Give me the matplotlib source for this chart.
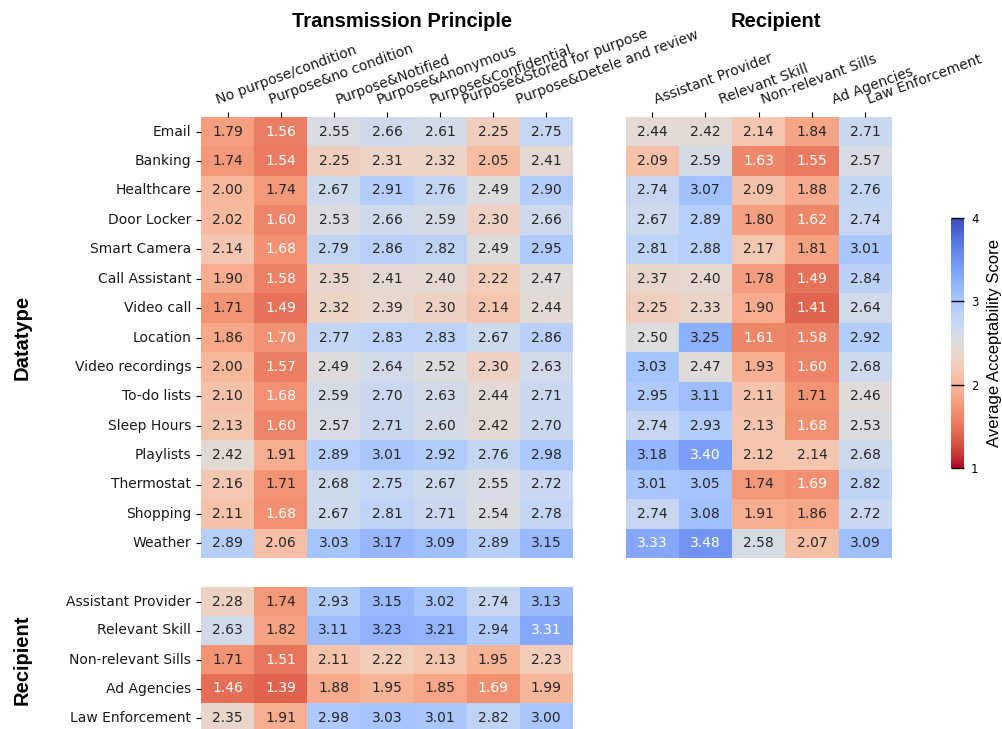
import matplotlib
matplotlib.use("Agg")
import matplotlib.pyplot as plt
import matplotlib.transforms as mtransforms
import seaborn as sns
import numpy as np
import pandas as pd

datatypes = ["Email", "Banking", "Healthcare", "Door Locker", "Smart Camera", "Call Assistant",
             "Video call", "Location", "Video recordings", "To-do lists", "Sleep Hours",
             "Playlists", "Thermostat", "Shopping", "Weather"]
principles = ["No purpose/condition", "Purpose&no condition", "Purpose&Notified",
              "Purpose&Anonymous", "Purpose&Confidential", "Purpose&Stored for purpose",
              "Purpose&Detele and review"]
recipients = ["Assistant Provider", "Relevant Skill", "Non-relevant Sills", "Ad Agencies",
              "Law Enforcement"]

datatype_by_principle = [
    [1.79, 1.56, 2.55, 2.66, 2.61, 2.25, 2.75],
    [1.74, 1.54, 2.25, 2.31, 2.32, 2.05, 2.41],
    [2.00, 1.74, 2.67, 2.91, 2.76, 2.49, 2.90],
    [2.02, 1.60, 2.53, 2.66, 2.59, 2.30, 2.66],
    [2.14, 1.68, 2.79, 2.86, 2.82, 2.49, 2.95],
    [1.90, 1.58, 2.35, 2.41, 2.40, 2.22, 2.47],
    [1.71, 1.49, 2.32, 2.39, 2.30, 2.14, 2.44],
    [1.86, 1.70, 2.77, 2.83, 2.83, 2.67, 2.86],
    [2.00, 1.57, 2.49, 2.64, 2.52, 2.30, 2.63],
    [2.10, 1.68, 2.59, 2.70, 2.63, 2.44, 2.71],
    [2.13, 1.60, 2.57, 2.71, 2.60, 2.42, 2.70],
    [2.42, 1.91, 2.89, 3.01, 2.92, 2.76, 2.98],
    [2.16, 1.71, 2.68, 2.75, 2.67, 2.55, 2.72],
    [2.11, 1.68, 2.67, 2.81, 2.71, 2.54, 2.78],
    [2.89, 2.06, 3.03, 3.17, 3.09, 2.89, 3.15],
]
datatype_by_recipient = [
    [2.44, 2.42, 2.14, 1.84, 2.71],
    [2.09, 2.59, 1.63, 1.55, 2.57],
    [2.74, 3.07, 2.09, 1.88, 2.76],
    [2.67, 2.89, 1.80, 1.62, 2.74],
    [2.81, 2.88, 2.17, 1.81, 3.01],
    [2.37, 2.40, 1.78, 1.49, 2.84],
    [2.25, 2.33, 1.90, 1.41, 2.64],
    [2.50, 3.25, 1.61, 1.58, 2.92],
    [3.03, 2.47, 1.93, 1.60, 2.68],
    [2.95, 3.11, 2.11, 1.71, 2.46],
    [2.74, 2.93, 2.13, 1.68, 2.53],
    [3.18, 3.40, 2.12, 2.14, 2.68],
    [3.01, 3.05, 1.74, 1.69, 2.82],
    [2.74, 3.08, 1.91, 1.86, 2.72],
    [3.33, 3.48, 2.58, 2.07, 3.09],
]
recipient_by_principle = [
    [2.28, 1.74, 2.93, 3.15, 3.02, 2.74, 3.13],
    [2.63, 1.82, 3.11, 3.23, 3.21, 2.94, 3.31],
    [1.71, 1.51, 2.11, 2.22, 2.13, 1.95, 2.23],
    [1.46, 1.39, 1.88, 1.95, 1.85, 1.69, 1.99],
    [2.35, 1.91, 2.98, 3.03, 3.01, 2.82, 3.00],
]

# horizontal pixel nudges of the rotated column labels (layout only)
principle_label_dx = [-13, -14, 0, -12, -12, -33, -32]
recipient_label_dx = [0, 12, 0, 18, 0]

W, H = 1002, 729
fig = plt.figure(figsize=(W / 100, H / 100), dpi=100)

ax1 = fig.add_axes([201 / W, 1 - 558 / H, 372 / W, 441 / H])
ax2 = fig.add_axes([625.5 / W, 1 - 558 / H, 266.5 / W, 441 / H])
ax3 = fig.add_axes([201 / W, 1 - 732 / H, 372 / W, 145 / H])
cax = fig.add_axes([951 / W, 1 - 468 / H, 13 / W, 250 / H])

common = dict(cmap="coolwarm_r", vmin=1, vmax=4, annot=True, fmt=".2f",
              annot_kws={"fontsize": 10})

df1 = pd.DataFrame(datatype_by_principle, index=datatypes, columns=principles)
df2 = pd.DataFrame(datatype_by_recipient, index=datatypes, columns=recipients)
df3 = pd.DataFrame(recipient_by_principle, index=recipients, columns=principles)

sns.heatmap(df1, ax=ax1, cbar=True, cbar_ax=cax,
            cbar_kws={"ticks": [1, 2, 3, 4]}, **common)
sns.heatmap(df2, ax=ax2, cbar=False, **common)
sns.heatmap(df3, ax=ax3, cbar=False, **common)

for ax, dxs in ((ax1, principle_label_dx), (ax2, recipient_label_dx)):
    ax.xaxis.tick_top()
    ax.set_xlabel("")
    ax.set_ylabel("")
    for lab, dx in zip(ax.get_xticklabels(), dxs):
        lab.set_rotation(20)
        lab.set_ha("left")
        lab.set_fontsize(10)
        lab.set_color("#1a1a1a")
        lab.set_transform(lab.get_transform() +
                          mtransforms.ScaledTranslation(dx / 100, 0,
                                                        fig.dpi_scale_trans))

ax1.set_yticklabels(datatypes, rotation=0, fontsize=10, color="#1a1a1a")
ax2.set_yticks([])
ax3.set_xticks([])
ax3.set_xlabel("")
ax3.set_ylabel("")
ax3.set_yticklabels(recipients, rotation=0, fontsize=10, color="#1a1a1a")

cax.tick_params(direction="in", length=13 * 0.72, width=1, labelsize=8.5, pad=5)
cax.set_ylabel("Average Acceptability Score", fontsize=12, family="Liberation Sans",
               labelpad=6)

fig.text(402 / W, 1 - 26.7 / H, "Transmission Principle", fontsize=14.5, weight="bold",
         family="Liberation Sans", ha="center", va="baseline")
fig.text(776 / W, 1 - 26.7 / H, "Recipient", fontsize=14.5, weight="bold",
         family="Liberation Sans", ha="center", va="baseline")
fig.text(22 / W, 1 - 337 / H, "Datatype", fontsize=14.5, weight="bold",
         family="Liberation Sans", ha="center", va="center", rotation=90)
fig.text(22 / W, 1 - 659.5 / H, "Recipient", fontsize=14.5, weight="bold",
         family="Liberation Sans", ha="center", va="center", rotation=90)

fig.savefig("out.png", dpi=100)
